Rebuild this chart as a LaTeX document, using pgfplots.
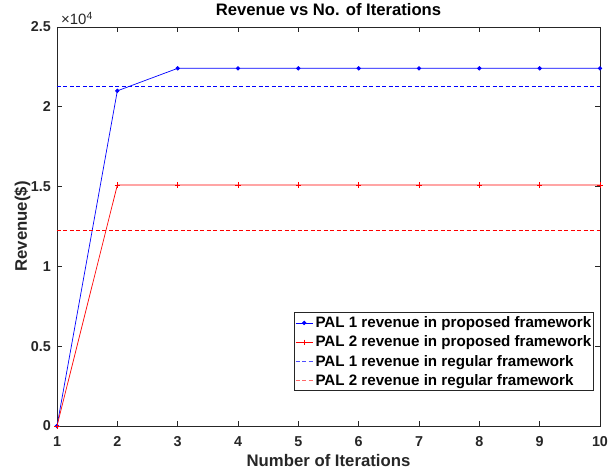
\documentclass[border=0pt]{standalone}
\usepackage{fontspec}
\setmainfont{Liberation Sans}
\usepackage{pgfplots}
\pgfplotsset{compat=1.18}
\definecolor{axgray}{RGB}{38,38,38}
\definecolor{mblue}{RGB}{0,0,255}
\definecolor{mred}{RGB}{255,0,0}
\begin{document}
\begin{tikzpicture}
\begin{axis}[
  name=ax,
  scale only axis, width=543bp, height=399bp,
  xmin=1, xmax=10, ymin=0, ymax=25000,
  xtick={1,2,3,4,5,6,7,8,9,10},
  xticklabels={1,2,3,4,5,6,7,8,9,10},
  ytick={0,5000,10000,15000,20000,25000},
  yticklabels={0,0.5,1,1.5,2,2.5},
  scaled y ticks=false,
  tick align=inside, tick pos=both,
  major tick length=5bp,
  axis line style={axgray, line width=0.6bp},
  tick style={axgray, line width=0.6bp},
  tick label style={font=\bfseries\fontsize{14.4}{16}\selectfont, text=axgray},
  x tick label style={anchor=north, inner sep=0pt, yshift=-10bp},
  y tick label style={anchor=east, inner sep=0pt, xshift=-6bp},
  title={Revenue vs No. of Iterations},
  title style={at={(rel axis cs:0.5,1)}, anchor=base, yshift=6bp, inner sep=0pt,
    font=\bfseries\fontsize{16.7}{18}\selectfont},
  xlabel={Number of Iterations},
  ylabel={Revenue(\$)},
  label style={font=\bfseries\fontsize{16.8}{18}\selectfont, text=axgray, inner sep=0pt},
  xlabel style={at={([yshift=-40bp]axis description cs:0.5,0)}, anchor=base},
  ylabel style={at={([xshift=-30bp]axis description cs:0,0.5)}, anchor=base},
  legend cell align=left,
  legend style={at={(rel axis cs:0.987,0.0902)}, anchor=south east, draw=axgray, fill=white,
    font=\bfseries\fontsize{15.2}{17}\selectfont, inner xsep=1.5bp, inner ysep=2.5bp,
    row sep=4.3bp, column sep=2.5bp,
    nodes={inner sep=0bp, text height=13bp, text depth=2bp}},
  legend image code/.code={\draw[mark repeat=2, mark phase=2, #1] plot coordinates {(0bp,-1bp) (8.5bp,-1bp) (17bp,-1bp)};},
  clip=false,
]
\addplot[forget plot, color=mblue, draw=mblue, line width=0.7bp, mark=*, mark size=1.8bp, mark options={draw=mblue, fill=mblue}] coordinates {
(1,0) (2,21000) (3,22410) (4,22410) (5,22410) (6,22410) (7,22410) (8,22410) (9,22410) (10,22410)};
\addplot[forget plot, color=mred, draw=mred, line width=0.7bp, mark=+, mark size=2.6bp, mark options={draw=mred}] coordinates {
(1,0) (2,15100) (3,15100) (4,15100) (5,15100) (6,15100) (7,15100) (8,15100) (9,15100) (10,15100)};
\addplot[forget plot, color=mblue, draw=mblue, line width=0.7bp, dash pattern=on 4bp off 2.5bp] coordinates {(1,21300) (10,21300)};
\addplot[forget plot, color=mred, draw=mred, line width=0.7bp, dash pattern=on 4bp off 2.5bp] coordinates {(1,12260) (10,12260)};
\addlegendimage{color=mblue, draw=mblue, line width=0.7bp, mark=*, mark size=1.8bp, mark options={draw=mblue, fill=mblue}}
\addlegendentry{PAL 1 revenue in proposed framework}
\addlegendimage{color=mred, draw=mred, line width=0.7bp, mark=+, mark size=2.6bp, mark options={draw=mred}}
\addlegendentry{PAL 2 revenue in proposed framework}
\addlegendimage{color=mblue!70, draw=mblue!70, line width=0.7bp, dash pattern=on 4bp off 2.5bp}
\addlegendentry{PAL 1 revenue in regular framework}
\addlegendimage{color=mred!60, draw=mred!60, line width=0.7bp, dash pattern=on 4bp off 2.5bp}
\addlegendentry{PAL 2 revenue in regular framework}
\node[anchor=base west, inner sep=0pt, xshift=4bp, yshift=2.5bp, text=axgray, font=\fontsize{15}{16}\selectfont] at (rel axis cs:0,1) {×10\textsuperscript{4}};
\end{axis}
\pgfresetboundingbox
\path ([shift={(-57bp,-46bp)}]ax.south west) rectangle ([shift={(9bp,27bp)}]ax.north east);
\end{tikzpicture}
\end{document}
